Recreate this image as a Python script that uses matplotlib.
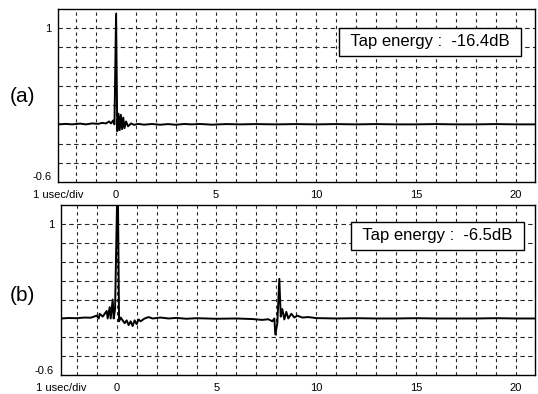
import numpy as np
import matplotlib
matplotlib.use('Agg')
from matplotlib import pyplot as plt
from matplotlib import transforms

plt.rcParams['font.family'] = ['Liberation Sans', 'DejaVu Sans']

# trace (a): time in usec, amplitude
time_a = [-2.9, -2.5, -2.2, -1.8, -1.5, -1.2, -0.9, -0.7, -0.5, -0.35, -0.25, -0.15, -0.08,
          0.0, 0.06, 0.12, 0.18, 0.24, 0.3, 0.36, 0.42, 0.5, 0.6, 0.75, 0.9, 1.1,
          1.4, 1.8, 2.2, 2.6, 3.0, 3.4, 3.8, 4.2, 4.8, 5.5, 6.2, 7.0, 8.0, 9.0,
          10.0, 11.0, 12.0, 13.0, 14.0, 15.0, 16.0, 17.0, 18.0, 19.0, 20.0, 21.0]
amp_a = [0.0, 0.005, 0.0, 0.008, 0.0, 0.01, 0.005, 0.015, 0.01, 0.03, 0.01, 0.04, 0.0,
         1.15, -0.07, 0.11, -0.06, 0.1, -0.05, 0.07, -0.04, 0.03, -0.02, 0.01, -0.005, 0.005,
         -0.003, 0.004, -0.004, 0.003, -0.004, 0.004, 0.0, 0.004, -0.003, 0.003, 0.0, 0.003, 0.0, 0.003,
         0.0, 0.003, 0.0, 0.003, 0.0, 0.0, 0.003, 0.0, 0.0, 0.003, 0.0, 0.0]

# trace (b)
time_b = [-2.8, -2.4, -2.0, -1.6, -1.3, -1.0, -0.9, -0.85, -0.7, -0.5, -0.45, -0.35, -0.3,
          -0.2, -0.15, -0.08, 0.05, 0.12, 0.2, 0.4, 0.5, 0.6, 0.7, 0.8, 0.9, 1.0, 1.1, 1.2,
          1.4, 1.6, 1.8, 2.2, 2.6, 3.0, 3.5, 4.0, 5.0, 6.0, 6.8, 7.3, 7.6, 7.8, 7.9, 7.95,
          8.05, 8.15, 8.22, 8.3, 8.4, 8.5, 8.6, 8.75, 8.9, 9.05, 9.3, 9.6, 10.0, 11.0, 12.0,
          13.0, 14.0, 15.0, 16.0, 17.0, 18.0, 19.0, 20.0, 21.0]
amp_b = [0.0, 0.005, 0.003, 0.01, 0.008, 0.03, 0.0, 0.05, 0.02, 0.08, 0.0, 0.12, 0.0,
         0.2, 0.0, 0.1, 1.6, -0.03, 0.01, -0.05, -0.02, -0.07, -0.03, -0.08, -0.02, -0.06, -0.01, -0.03,
         0.0, 0.015, 0.0, 0.01, 0.0, 0.006, -0.003, 0.003, -0.003, 0.0, -0.006, -0.015, -0.008, -0.03, 0.0, -0.17,
         -0.05, 0.42, 0.02, 0.1, -0.01, 0.07, 0.0, 0.05, 0.01, 0.03, 0.01, 0.015, 0.004, 0.0, 0.003,
         0.0, 0.0, 0.003, 0.0, 0.0, 0.0, 0.003, 0.0, 0.0]

xtick_pos = [0, 5, 10, 15, 20]
xtick_labels = ['0', '5', '10', '15', '20']
ytick_pos = [1, -0.6]
ytick_labels = ['1', '-0.6']
energy_labels = [' Tap energy :  -16.4dB ', ' Tap energy :  -6.5dB ']
panel_labels = ['(a)', '(b)']

fig = plt.figure(figsize=(5.38, 3.94), dpi=100)
ax_a = fig.add_axes([0.108, 0.538, 0.886, 0.439])
ax_b = fig.add_axes([0.113, 0.048, 0.881, 0.431])

panels = [
    (ax_a, time_a, amp_a, -2.9, (0.78, 0.81), 0.756),
    (ax_b, time_b, amp_b, -2.8, (0.795, 0.82), 0.251),
]

for i, (ax, t, v, xmin, boxpos, label_y) in enumerate(panels):
    ax.set_xlim(xmin, 20.95)
    ax.set_ylim(-0.6, 1.2)
    for gx in range(-2, 21):
        ax.axvline(gx, color='0.15', lw=0.8, ls=(0, (3, 3)), zorder=1)
    for gy in np.arange(-0.4, 1.2, 0.2):
        if abs(gy) > 1e-6:
            ax.axhline(gy, color='0.15', lw=0.8, ls=(0, (4, 3)), zorder=1)
    ax.plot(t, v, color='black', lw=1.4, zorder=3)
    ax.set_xticks([xmin] + xtick_pos)
    ax.set_xticklabels(['1 usec/div'] + xtick_labels)
    ax.set_yticks(ytick_pos)
    ax.set_yticklabels(ytick_labels)
    ax.tick_params(length=0, labelsize=8, pad=6)
    ax.tick_params(axis='y', pad=5)
    # lift the bottom y label a little, as in the original
    lab = ax.get_yticklabels()[1]
    lab.set_transform(lab.get_transform() + transforms.ScaledTranslation(0, 4 / 72, fig.dpi_scale_trans))
    for s in ax.spines.values():
        s.set_color('black')
        s.set_linewidth(1.0)
    ax.text(boxpos[0], boxpos[1], energy_labels[i], transform=ax.transAxes,
            ha='center', va='center', fontsize=12, zorder=5,
            bbox=dict(boxstyle='square,pad=0.4', fc='white', ec='black', lw=1.0))
    fig.text(0.041, label_y, panel_labels[i], ha='center', va='center', fontsize=15)

fig.savefig('out.png', dpi=100)
